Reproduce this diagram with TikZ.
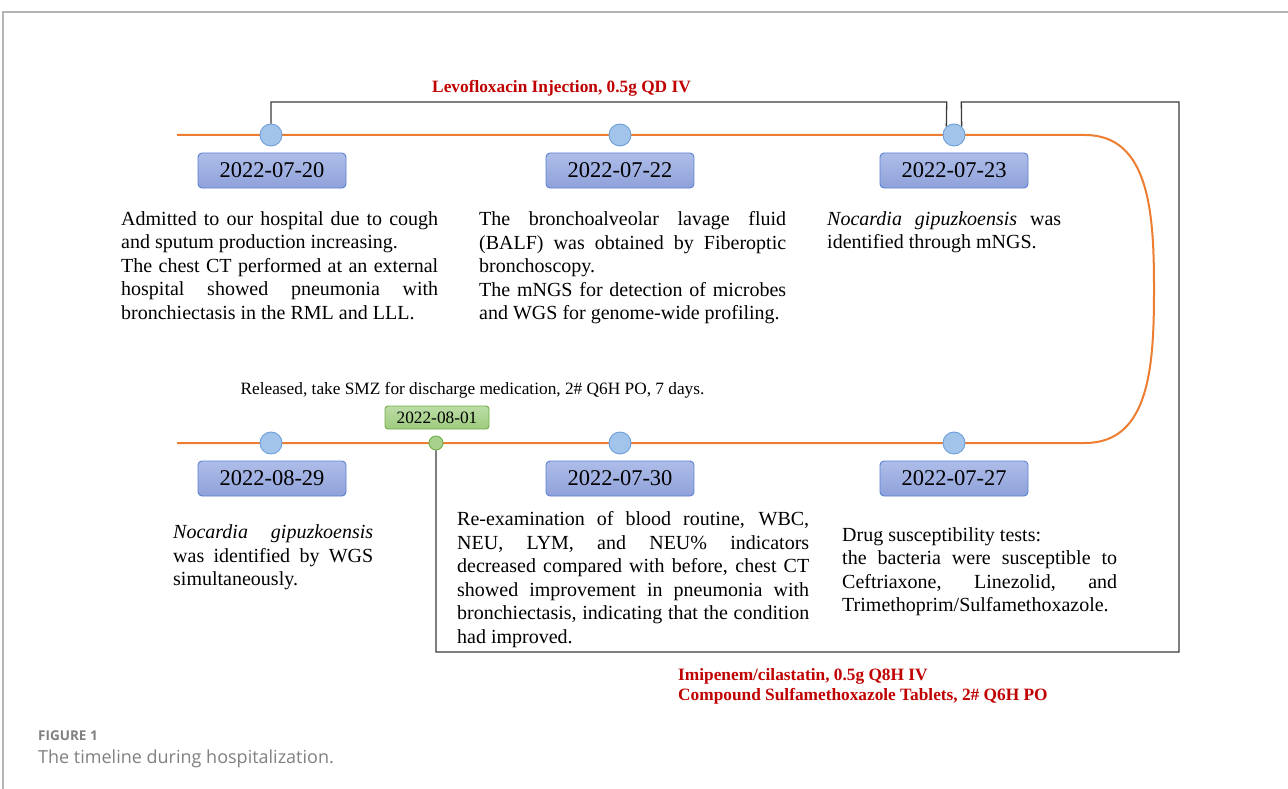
\documentclass[tikz,border=0pt]{standalone}
\usepackage{fontspec}
\setmainfont{Liberation Serif}
\newfontfamily\capsans{Open Sans}
\definecolor{tlorange}{HTML}{ED7D31}
\definecolor{dotfill}{HTML}{A3C4EA}
\definecolor{dotline}{HTML}{6C9FDA}
\definecolor{boxtop}{HTML}{AEBDE8}
\definecolor{boxbot}{HTML}{8FA1DA}
\definecolor{boxline}{HTML}{5A80D2}
\definecolor{gfill}{HTML}{A9D18E}
\definecolor{gline}{HTML}{70AD47}
\definecolor{gtop}{HTML}{BCDDA6}
\definecolor{gbot}{HTML}{9DCB7E}
\definecolor{connc}{HTML}{3A3A3A}
\definecolor{redtxt}{HTML}{C00000}
\definecolor{framec}{HTML}{B4B4B4}
\definecolor{capc}{HTML}{808080}
\newcommand\descsetup{\fontsize{20}{23.5}\selectfont\setlength{\parindent}{0pt}%
  \hyphenpenalty 10000\relax\exhyphenpenalty 10000\relax\tolerance 10000\relax}
\tikzset{
  tline/.style={draw=tlorange, line width=2pt},
  dot/.style={circle, draw=dotline, fill=dotfill, line width=0.9pt, minimum size=22pt, inner sep=0pt},
  gdot/.style={circle, draw=gline, fill=gfill, line width=0.9pt, minimum size=14pt, inner sep=0pt},
  datebox/.style={rounded corners=4pt, draw=boxline, top color=boxtop, bottom color=boxbot, line width=0.9pt,
    minimum width=148pt, minimum height=35pt, inner sep=0pt, font=\fontsize{22.5}{24}\selectfont},
  gbox/.style={rounded corners=3pt, draw=gline, top color=gtop, bottom color=gbot, line width=0.9pt,
    minimum width=104pt, minimum height=23pt, inner sep=0pt, font=\fontsize{17.3}{19}\selectfont},
  conn/.style={draw=connc, line width=1.3pt},
  desc/.style={anchor=north west, inner sep=0pt, align=justify, font=\descsetup},
  drug/.style={text=redtxt, inner sep=0pt, font=\fontsize{17.3}{20}\selectfont\bfseries},
  note/.style={inner sep=0pt, font=\fontsize{17.3}{20}\selectfont},
}
\begin{document}
\begin{tikzpicture}[x=1pt, y=-1pt]
\useasboundingbox (0,0) rectangle (1288,789);
% page frame
\draw[framec, line width=1.2pt] (3,789) -- (3,12) -- (1288,12);

% timeline
\draw[tline] (177,135) -- (1085,135)
  .. controls (1150,135) and (1154,215) .. (1154,289)
  .. controls (1154,365) and (1150,443) .. (1085,443) -- (177,443);

% dots
\node[dot] (c1) at (271,135) {};
\node[dot] (c2) at (620,135) {};
\node[dot] (c3) at (954,135) {};
\node[dot] (c4) at (271,443) {};
\node[gdot] (g) at (436,443) {};
\node[dot] (c5) at (620,443) {};
\node[dot] (c6) at (954,443) {};

% date boxes
\node[datebox] (d1) at (272,170.5) {2022-07-20};
\node[datebox] (d2) at (620,170.5) {2022-07-22};
\node[datebox] (d3) at (954,170.5) {2022-07-23};
\node[datebox] (d4) at (272,478.5) {2022-08-29};
\node[datebox] (d5) at (620,478.5) {2022-07-30};
\node[datebox] (d6) at (954,478.5) {2022-07-27};
\node[gbox] (gd) at (437,417.5) {2022-08-01};

% connectors
\coordinate (k1) at (946.7,102);
\coordinate (k2) at (961.3,102);
\coordinate (k3) at (1179,652);
\draw[conn] (c1.north) |- (k1) -- (c3.132);
\draw[conn] (c3.48) -- (k2) -| (k3) -| (g.south);

% drug labels
\node[drug, anchor=base] (levo) at (561.5,92.5) {Levofloxacin Injection, 0.5g QD IV};
\node[drug, anchor=north west, align=left] (imi) at (678,668) {Imipenem/cilastatin, 0.5g Q8H IV\\Compound Sulfamethoxazole Tablets, 2\# Q6H PO};
\node[note, anchor=base] (rel) at (472.5,394) {Released, take SMZ for discharge medication, 2\# Q6H PO, 7 days.};

% descriptions
\node[desc, text width=317pt] (t1) at (121,211.3) {Admitted to our hospital due to cough\linebreak and sputum production increasing.\par The chest CT performed at an external\linebreak hospital showed pneumonia with\linebreak bronchiectasis in the RML and LLL.};
\node[desc, text width=307pt] (t2) at (479,211.3) {The bronchoalveolar lavage fluid\linebreak (BALF) was obtained by Fiberoptic\linebreak bronchoscopy.\par The mNGS for detection of microbes\linebreak and WGS for genome-wide profiling.};
\node[desc, text width=234pt] (t3) at (827,211.3) {\textit{Nocardia gipuzkoensis} was\linebreak identified through mNGS.};
\node[desc, text width=200pt] (t4) at (173,524.5) {\textit{Nocardia gipuzkoensis}\linebreak was identified by WGS\linebreak simultaneously.};
\node[desc, text width=352pt] (t5) at (457,511.3) {Re-examination of blood routine, WBC,\linebreak NEU, LYM, and NEU\% indicators\linebreak decreased compared with before, chest CT\linebreak showed improvement in pneumonia with\linebreak bronchiectasis, indicating that the condition\linebreak had improved.};
\node[desc, text width=275pt] (t6) at (842,527.3) {Drug susceptibility tests:\par the bacteria were susceptible to\linebreak Ceftriaxone, Linezolid, and\linebreak Trimethoprim/Sulfamethoxazole.};

% caption
\node[anchor=base west, inner sep=0pt, text=capc, font=\capsans\bfseries\fontsize{13.5}{15}\selectfont] (fig) at (38,740) {FIGURE 1};
\node[anchor=base west, inner sep=0pt, text=capc, font=\capsans\fontsize{18}{20}\selectfont] (cap) at (38,763) {The timeline during hospitalization.};
\end{tikzpicture}
\end{document}
